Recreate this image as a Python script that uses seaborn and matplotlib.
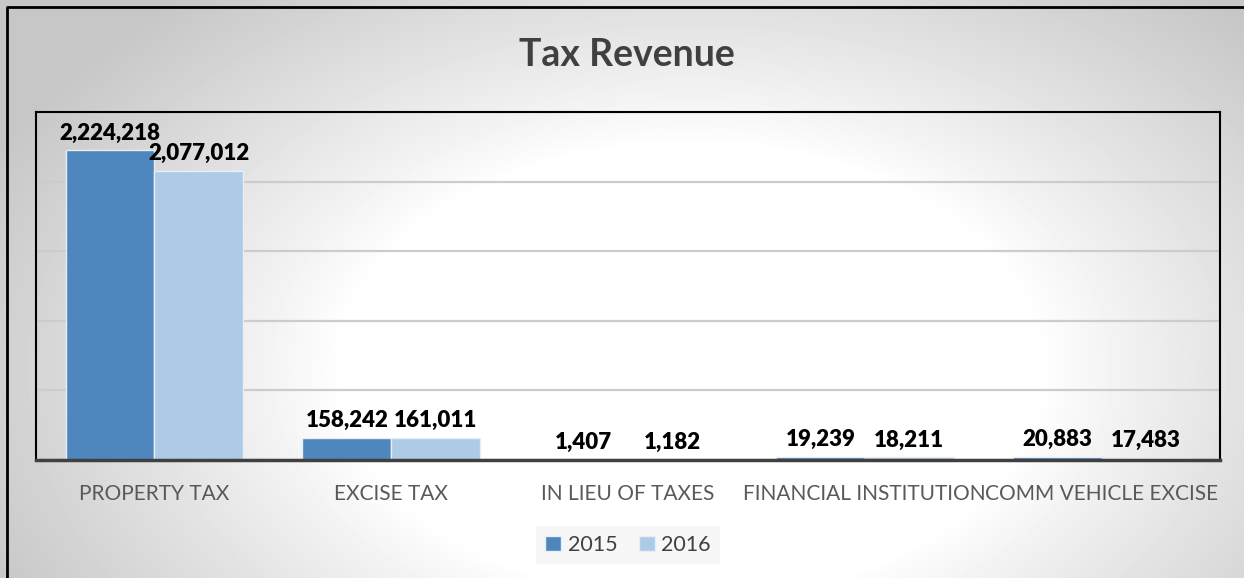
import numpy as np
import pandas as pd
import matplotlib
matplotlib.use("Agg")
import matplotlib.pyplot as plt
import seaborn as sns

categories = ["PROPERTY TAX", "EXCISE TAX", "IN LIEU OF TAXES",
              "FINANCIAL INSTITUTION", "COMM VEHICLE EXCISE"]
years = ["2015", "2016"]
values_2015 = [2224218, 158242, 1407, 19239, 20883]
values_2016 = [2077012, 161011, 1182, 18211, 17483]
title = "Tax Revenue"

df = pd.DataFrame({
    "category": categories * 2,
    "year": [years[0]] * len(categories) + [years[1]] * len(categories),
    "value": values_2015 + values_2016,
})

sns.set_theme(style="white")
plt.rcParams["font.family"] = ["Lato", "DejaVu Sans"]

W, H = 1244, 578
fig = plt.figure(figsize=(W / 100, H / 100), dpi=100)

# radial gradient background
yy, xx = np.mgrid[0:H, 0:W]
d = np.sqrt(((xx - 690) / 700.0) ** 2 + ((yy - 370) / 450.0) ** 2)
t = np.clip((d - 0.5) / 0.6, 0, 1)
t = t ** 0.9
v = 255 - 56 * t
bg = fig.add_axes([0, 0, 1, 1], zorder=-10)
bg.imshow(v, cmap="gray", vmin=0, vmax=255, extent=[0, W, H, 0],
          aspect="auto", interpolation="bilinear")
bg.plot([7, 7, W + 5], [H + 5, 7, 7], color="black", lw=2)
bg.set_xlim(0, W)
bg.set_ylim(H, 0)
bg.axis("off")

ax = fig.add_axes([36 / W, 1 - 460 / H, (1220 - 36) / W, (460 - 112) / H])
ax.patch.set_alpha(0)
sns.barplot(data=df, x="category", y="value", hue="year",
            palette=["#4E86BE", "#ADCBE6"], width=0.75, ax=ax,
            edgecolor="#E8EEF5", linewidth=1, saturation=1)

ax.set_ylim(0, 2500000)
ax.set_yticks(np.arange(0, 2500001, 500000))
ax.tick_params(axis="y", left=False, labelleft=False)
ax.tick_params(axis="x", bottom=False, pad=11, labelsize=15, labelcolor="#595959")
ax.set_xlabel("")
ax.set_ylabel("")
ax.grid(axis="y", color="#CCCCCC", lw=1.6)
ax.set_axisbelow(True)
for s in ["left", "top", "right"]:
    ax.spines[s].set_color("black")
    ax.spines[s].set_linewidth(1.5)
ax.spines["bottom"].set_color("#404040")
ax.spines["bottom"].set_linewidth(2.5)

for c in ax.containers:
    ax.bar_label(c, fmt="{:,.0f}", padding=5, fontsize=16,
                 fontweight="heavy", color="black")

handles, labels = ax.get_legend_handles_labels()
ax.get_legend().remove()
fig.legend(handles, labels, loc="center", bbox_to_anchor=(628 / W, 1 - 545 / H),
           ncol=2, frameon=True, facecolor="#F5F5F5", edgecolor="none",
           fancybox=False, fontsize=15.5, handlelength=0.75, handleheight=0.75,
           handletextpad=0.3, columnspacing=1.0, labelcolor="#404040")

fig.text(627 / W, 1 - 55 / H, title, ha="center", va="center",
         fontsize=27, fontweight="bold", color="#404040")

fig.savefig("out.png", dpi=100)
